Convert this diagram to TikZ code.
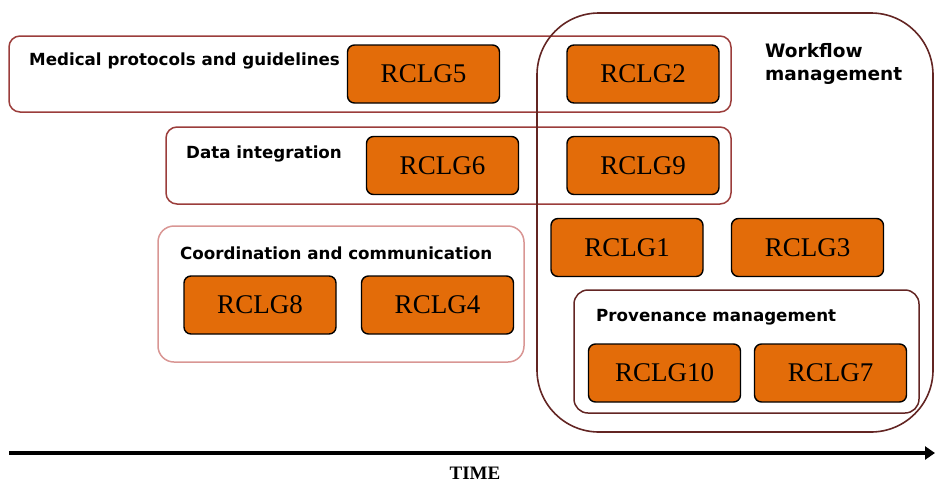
\documentclass[tikz,border=0pt]{standalone}
\usepackage{fontspec}
\usepackage{tikz}
\usetikzlibrary{arrows.meta}
\setmainfont{Liberation Serif}
\newfontfamily\lblfont{DejaVu Sans}
\definecolor{rclgorange}{HTML}{E36C09}
\definecolor{grpred}{HTML}{9B3D3B}
\definecolor{grppink}{HTML}{D99694}
\definecolor{grpbrown}{HTML}{632523}

\begin{document}
\begin{tikzpicture}
	[x=1pt, y=-1pt,
	rclg/.style={rectangle,draw=black,line width=1.4pt,fill=rclgorange,rounded corners=7pt,
		minimum width=152pt,minimum height=58pt,font=\fontsize{27}{29}\selectfont},
	grp/.style={rectangle,line width=1.5pt,rounded corners=11pt,inner sep=0pt},
	lbl/.style={anchor=west,inner sep=0pt,font=\lblfont\bfseries\fontsize{16.7}{20}\selectfont}]
	\useasboundingbox (0,0) rectangle (935,483);
	\node (med) [grp,draw=grpred,minimum width=722pt,minimum height=76pt] at (370,74) {};
	\node (di) [grp,draw=grpred,minimum width=565pt,minimum height=77pt] at (448.5,165.5) {};
	\node (cc) [grp,draw=grppink,minimum width=366pt,minimum height=136pt,rounded corners=16pt] at (341,294) {};
	\node (wf) [grp,draw=grpbrown,line width=1.6pt,minimum width=396pt,minimum height=419pt,rounded corners=62pt] at (735,222.5) {};
	\node (pm) [grp,draw=grpbrown,minimum width=345pt,minimum height=123pt,rounded corners=14pt] at (746.5,351.5) {};
	\node (medlbl) [lbl] at (29,61) {Medical protocols and guidelines};
	\node (dilbl) [lbl] at (186,153.5) {Data integration};
	\node (cclbl) [lbl] at (180,253) {Coordination and communication};
	\node (pmlbl) [lbl] at (596,317) {Provenance management};
	\node (wflbl) [lbl,align=left,font=\lblfont\bfseries\fontsize{18.5}{23}\selectfont] at (765,64) {Workflow\\management};
	\node (g5) [rclg] at (423.5,74) {RCLG5};
	\node (g2) [rclg] at (643,74) {RCLG2};
	\node (g6) [rclg] at (442.5,165.5) {RCLG6};
	\node (g9) [rclg] at (643,165.5) {RCLG9};
	\node (g1) [rclg] at (627,247.5) {RCLG1};
	\node (g3) [rclg] at (807.5,247.5) {RCLG3};
	\node (g8) [rclg] at (260,305) {RCLG8};
	\node (g4) [rclg] at (437.5,305) {RCLG4};
	\node (g10) [rclg] at (664.5,373) {RCLG10};
	\node (g7) [rclg] at (830.5,373) {RCLG7};
	\coordinate (t0) at (9,453);
	\coordinate (t1) at (935,453);
	\draw [line width=3.5pt,-{Triangle[length=10pt,width=13pt]}] (t0) -- (t1);
	\node (time) [inner sep=0pt,font=\bfseries\fontsize{19}{21}\selectfont] at (475,473) {TIME};
\end{tikzpicture}
\end{document}
